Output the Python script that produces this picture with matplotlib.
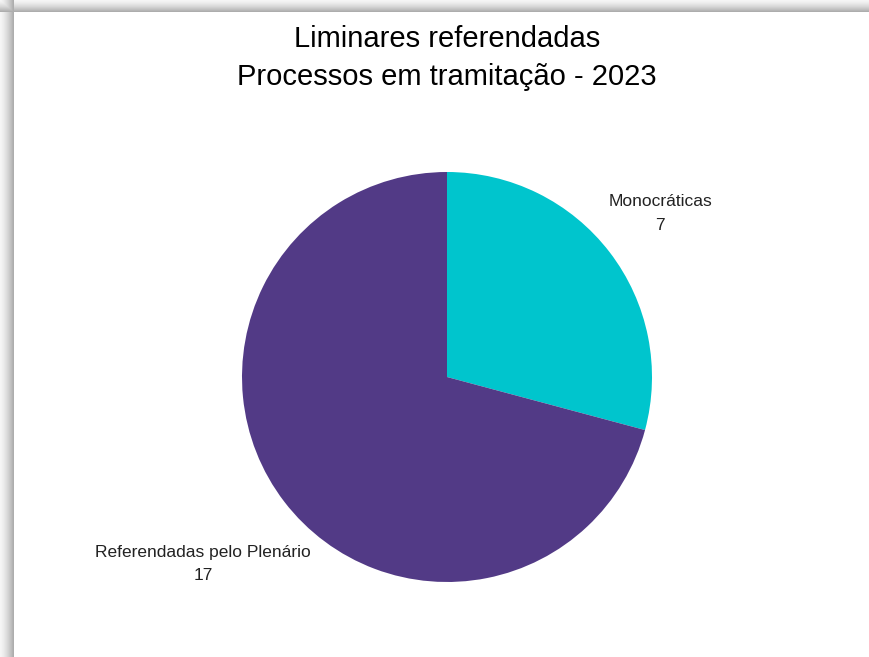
import numpy as np
import matplotlib.pyplot as plt

plt.rcParams['font.family'] = ['Liberation Sans', 'DejaVu Sans']

# data
categorias = ['Monocráticas', 'Referendadas pelo Plenário']
valores = [7, 17]
cores = ['#00C5CD', '#523A86']
titulo = 'Liminares referendadas\nProcessos em tramitação - 2023'

W, H = 870, 657
fig = plt.figure(figsize=(W / 100, H / 100), dpi=100)

# card shadow along top and left edges
bg = fig.add_axes([0, 0, 1, 1])
xs = np.arange(W) + 0.5
ys = np.arange(H) + 0.5
left = np.clip(xs / 14.0, 0, 1)
top = np.clip(ys / 12.0, 0, 1)
shade_x = np.where(xs < 14, 0.96 - 0.30 * left ** 1.5, 1.0)
shade_y = np.where(ys < 12, 0.96 - 0.30 * top ** 1.5, 1.0)
img = np.minimum(shade_y[:, None], shade_x[None, :])
bg.imshow(img, cmap='gray', vmin=0, vmax=1, aspect='auto',
          extent=[0, W, H, 0], interpolation='nearest')
bg.set_xlim(0, W)
bg.set_ylim(H, 0)
bg.axis('off')

# pie
cx, cy, r = 447, 377, 205
ax = fig.add_axes([(cx - r) / W, (H - cy - r) / H, 2 * r / W, 2 * r / H])
wedges, _ = ax.pie(valores, colors=cores, startangle=90, counterclock=False,
                   wedgeprops=dict(linewidth=0))
ax.set_xlim(-1, 1)
ax.set_ylim(-1, 1)
ax.set_aspect('equal')

dist = [1.31, 1.50]
for w, cat, v, d in zip(wedges, categorias, valores, dist):
    ang = np.deg2rad((w.theta1 + w.theta2) / 2)
    ax.text(d * np.cos(ang), d * np.sin(ang), f'{cat}\n{v}', ha='center',
            va='center', fontsize=12.5, color='#222222', linespacing=1.7,
            clip_on=False)

fig.text(cx / W, 1 - 58 / H, titulo, ha='center', va='center', fontsize=21,
         color='black', linespacing=1.49)

fig.savefig('out.png', dpi=100)
